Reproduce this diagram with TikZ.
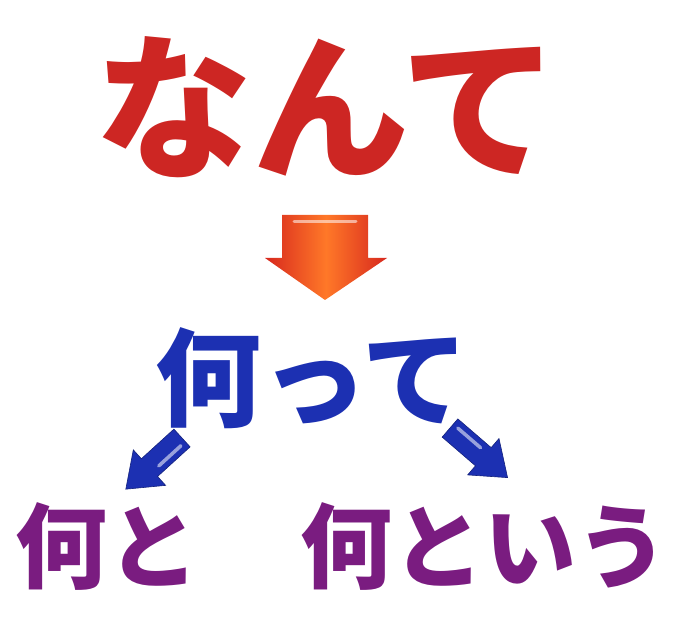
\documentclass[tikz,border=0pt]{standalone}
\usepackage{fontspec}
\newfontfamily\cjk{Noto Sans CJK JP}
\definecolor{tred}{RGB}{205,38,35}
\definecolor{tblue}{RGB}{28,48,178}
\definecolor{tpurple}{RGB}{122,28,128}
\definecolor{aorange}{RGB}{255,120,40}
\definecolor{ared}{RGB}{215,40,30}
\tikzset{
  bigword/.style={inner sep=0pt, font=\cjk\bfseries\fontsize{157}{165}\selectfont, text=tred},
  midword/.style={inner sep=0pt, font=\cjk\bfseries\fontsize{106}{116}\selectfont, text=tblue},
  lowword/.style={inner sep=0pt, font=\cjk\bfseries\fontsize{92}{100}\selectfont, text=tpurple},
  bluearrow/.style={fill=tblue, draw=tblue!70!black, line width=0.6pt},
  gloss/.style={white, line cap=round, opacity=0.55}
}
\begin{document}
\begin{tikzpicture}[x=1pt,y=1pt]
\useasboundingbox (0,0) rectangle (689,633);
% top word
\node[bigword] (nante) at (327,526) {なんて};
% red block arrow
\coordinate (rtop) at (325,418);
\coordinate (rtip) at (325,333);
\shade[left color=ared, right color=ared, middle color=aorange]
  (282,418) -- (368,418) -- (368,375) -- (387,375) -- (rtip) -- (265,375) -- (282,375) -- cycle;
\draw[gloss, line width=3pt] (294,411) -- (356,411);
% middle word
\node[midword] (nantte) at (312,255) {何って};
% blue arrows
\coordinate (lt) at (182,195);
\coordinate (lh) at (126,144);
\coordinate (rt) at (450,205);
\coordinate (rh) at (508,155);
\begin{scope}[shift={(lt)}, rotate={atan2(144-195,126-182)}]
  \fill[bluearrow] (0,-12) -- (44,-12) -- (44,-24) -- (76,0) -- (44,24) -- (44,12) -- (0,12) -- cycle;
  \draw[gloss, line width=3.5pt] (6,5) -- (36,5);
\end{scope}
\begin{scope}[shift={(rt)}, rotate={atan2(155-205,508-450)}]
  \fill[bluearrow] (0,-12) -- (44,-12) -- (44,-24) -- (76,0) -- (44,24) -- (44,12) -- (0,12) -- cycle;
  \draw[gloss, line width=3.5pt] (6,5) -- (36,5);
\end{scope}
% bottom words
\node[lowword] (nanto) at (108,86) {何と};
\node[lowword] (nantoiu) at (484,86) {何という};
\end{tikzpicture}
\end{document}
